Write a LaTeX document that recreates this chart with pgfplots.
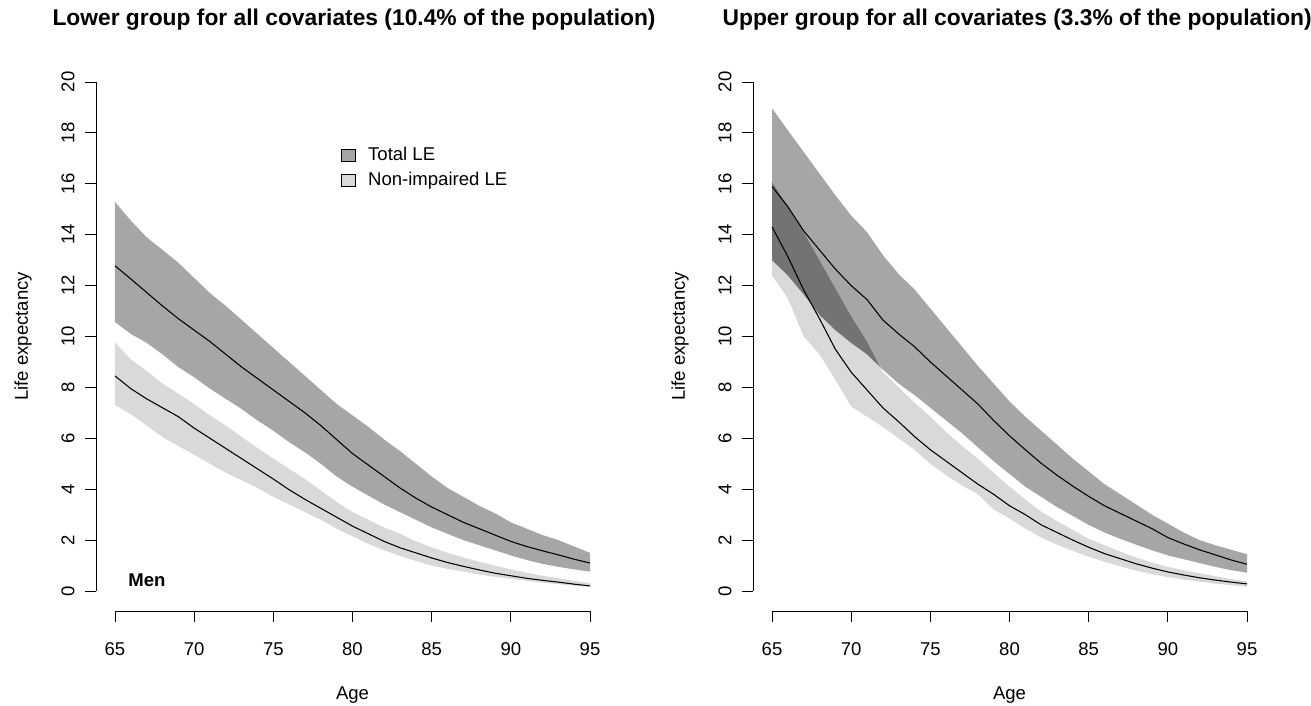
\documentclass[border=0pt]{standalone}
\usepackage{fontspec}
\setmainfont{Liberation Sans}
\usepackage{pgfplots}
\usepackage{pgfplotstable}
\usepgfplotslibrary{fillbetween}
\pgfplotsset{compat=1.18}
\definecolor{gtotal}{RGB}{166,166,166}
\definecolor{gni}{RGB}{217,217,217}
\definecolor{gover}{RGB}{115,115,115}

\pgfplotstableread{
age thi tmean tlo nhi nmean nlo
65 15.29 12.78 10.57 9.77 8.45 7.31
66 14.55 12.26 10.10 9.10 7.95 6.95
67 13.90 11.73 9.75 8.65 7.55 6.50
68 13.40 11.20 9.30 8.15 7.20 6.05
69 12.90 10.70 8.80 7.75 6.85 5.70
70 12.30 10.25 8.40 7.35 6.40 5.35
71 11.70 9.80 7.95 6.90 6.00 5.00
72 11.20 9.30 7.55 6.50 5.60 4.65
73 10.65 8.80 7.15 6.05 5.20 4.35
74 10.10 8.35 6.70 5.62 4.80 4.05
75 9.55 7.90 6.30 5.20 4.40 3.70
76 9.00 7.45 5.85 4.80 3.98 3.40
77 8.45 7.00 5.45 4.40 3.60 3.10
78 7.90 6.50 5.00 3.95 3.25 2.80
79 7.35 5.95 4.50 3.50 2.90 2.45
80 6.90 5.40 4.10 3.10 2.55 2.15
81 6.45 4.95 3.75 2.80 2.25 1.85
82 5.95 4.50 3.40 2.50 1.95 1.60
83 5.50 4.05 3.10 2.25 1.70 1.38
84 5.00 3.65 2.80 1.95 1.50 1.18
85 4.50 3.30 2.50 1.72 1.30 1.00
86 4.05 3.00 2.25 1.50 1.12 0.87
87 3.70 2.70 2.00 1.32 0.97 0.76
88 3.35 2.45 1.80 1.15 0.83 0.65
89 3.05 2.20 1.60 1.00 0.70 0.56
90 2.70 1.95 1.40 0.85 0.60 0.48
91 2.45 1.75 1.22 0.72 0.50 0.40
92 2.20 1.58 1.07 0.60 0.42 0.33
93 2.00 1.42 0.95 0.50 0.35 0.27
94 1.75 1.25 0.85 0.40 0.27 0.21
95 1.50 1.10 0.76 0.30 0.20 0.17
}\leftdata

\pgfplotstableread{
age thi tmean tlo nhi nmean nlo
65 18.97 15.90 13.00 16.08 14.31 12.40
66 18.10 15.10 12.40 15.10 13.14 11.50
67 17.25 14.15 11.65 14.10 11.83 10.00
68 16.40 13.40 10.85 13.00 10.70 9.30
69 15.55 12.65 10.25 11.90 9.50 8.30
70 14.75 12.00 9.75 10.80 8.60 7.25
71 14.10 11.45 9.30 9.80 7.90 6.85
72 13.20 10.65 8.70 8.60 7.20 6.45
73 12.45 10.10 8.15 8.00 6.65 6.00
74 11.85 9.60 7.70 7.40 6.07 5.55
75 11.10 9.00 7.20 6.85 5.55 5.00
76 10.35 8.45 6.70 6.25 5.10 4.55
77 9.60 7.90 6.20 5.70 4.65 4.15
78 8.85 7.35 5.65 5.20 4.20 3.80
79 8.15 6.70 5.10 4.65 3.80 3.20
80 7.45 6.10 4.60 4.10 3.35 2.85
81 6.85 5.55 4.10 3.60 3.00 2.45
82 6.30 5.02 3.70 3.12 2.60 2.10
83 5.75 4.55 3.30 2.75 2.30 1.82
84 5.20 4.12 2.95 2.40 2.00 1.58
85 4.70 3.72 2.60 2.05 1.72 1.35
86 4.20 3.35 2.30 1.80 1.47 1.15
87 3.80 3.05 2.05 1.55 1.27 0.97
88 3.40 2.75 1.82 1.32 1.07 0.80
89 3.00 2.45 1.60 1.12 0.90 0.66
90 2.65 2.10 1.40 0.95 0.75 0.55
91 2.30 1.85 1.25 0.82 0.63 0.45
92 2.00 1.62 1.10 0.70 0.52 0.37
93 1.80 1.42 0.95 0.58 0.43 0.29
94 1.62 1.22 0.82 0.47 0.35 0.23
95 1.45 1.05 0.72 0.38 0.28 0.17
}\rightdata

\newcommand{\rfont}{\fontsize{13.9pt}{16pt}\selectfont}
\newcommand{\tfont}{\fontsize{17.1pt}{20pt}\selectfont\bfseries}

\pgfplotsset{
  rstyle/.style={
    scale only axis, width=384.75pt, height=412.35pt,
    xmin=63.8, xmax=96.2, ymin=-0.8, ymax=20.8,
    clip=false,
    axis line style={draw=none},
    tick align=outside, xtick pos=bottom, ytick pos=left,
    major tick length=7.9pt,
    tick style={black, line width=0.6pt},
    xtick={65,70,...,95}, ytick={0,2,...,20},
    /pgf/number format/assume math mode=true,
    tick label style={font=\rfont},
    xticklabel style={anchor=center, yshift=-20.25pt},
    yticklabel style={rotate=90, anchor=center, yshift=13.1pt},
    xlabel={Age}, ylabel={Life expectancy},
    label style={font=\rfont},
    xlabel style={at={(axis description cs:0.5,-0.1527)}, anchor=center},
    ylabel style={at={(axis description cs:-0.1423,0.5)}, anchor=center},
  }
}

\begin{document}
\begin{tikzpicture}
% ---------- left panel ----------
\begin{axis}[rstyle, at={(0pt,0pt)}, anchor=south west,
  legend style={at={(axis description cs:0.4700,0.8540)}, anchor=north west, draw=none, fill=none,
    font=\rfont, row sep=3pt,
    /tikz/every odd column/.append style={column sep=7.5pt}},
  legend cell align=left]
\addplot[name path=LTU, draw=none, forget plot] table[x=age,y=thi]{\leftdata};
\addplot[name path=LTL, draw=none, forget plot] table[x=age,y=tlo]{\leftdata};
\addplot[fill=gtotal, draw=none, forget plot] fill between[of=LTU and LTL];
\addplot[name path=LNU, draw=none, forget plot] table[x=age,y=nhi]{\leftdata};
\addplot[name path=LNL, draw=none, forget plot] table[x=age,y=nlo]{\leftdata};
\addplot[fill=gni, draw=none, forget plot] fill between[of=LNU and LNL];
\addplot[black, line width=0.8pt, forget plot] table[x=age,y=tmean]{\leftdata};
\addplot[black, line width=0.8pt, forget plot] table[x=age,y=nmean]{\leftdata};
\addlegendimage{legend image code/.code={\draw[fill=gtotal,draw=black,line width=0.6pt] (0pt,-4.5pt) rectangle (10pt,4.5pt);}}
\addlegendentry{Total LE}
\addlegendimage{legend image code/.code={\draw[fill=gni,draw=black,line width=0.6pt] (0pt,-4.5pt) rectangle (10pt,4.5pt);}}
\addlegendentry{Non-impaired LE}
\draw[black, line width=0.6pt] (axis cs:65,-0.8) -- (axis cs:95,-0.8);
\draw[black, line width=0.6pt] (axis cs:63.8,0) -- (axis cs:63.8,20);
\node[anchor=west, font=\rfont\bfseries] at (axis cs:65.55,0.43) {Men};
\node[font=\tfont] at (axis description cs:0.503,1.0757) {Lower group for all covariates (10.4\% of the population)};
\end{axis}

% ---------- right panel ----------
\begin{axis}[rstyle, at={(492.75pt,0pt)}, anchor=south west]
\addplot[name path=RTU, draw=none, forget plot] table[x=age,y=thi]{\rightdata};
\addplot[name path=RTL, draw=none, forget plot] table[x=age,y=tlo]{\rightdata};
\addplot[fill=gtotal, draw=none, forget plot] fill between[of=RTU and RTL];
\addplot[name path=RNU, draw=none, forget plot] table[x=age,y=nhi]{\rightdata};
\addplot[name path=RNL, draw=none, forget plot] table[x=age,y=nlo]{\rightdata};
\addplot[fill=gni, draw=none, forget plot] fill between[of=RNU and RNL];
\addplot[fill=gover, draw=none, forget plot] fill between[of=RNU and RTL, soft clip={domain=65:71.83}];
\addplot[black, line width=0.8pt, forget plot] table[x=age,y=tmean]{\rightdata};
\addplot[black, line width=0.8pt, forget plot] table[x=age,y=nmean]{\rightdata};
\draw[black, line width=0.6pt] (axis cs:65,-0.8) -- (axis cs:95,-0.8);
\draw[black, line width=0.6pt] (axis cs:63.8,0) -- (axis cs:63.8,20);
\node[font=\tfont] at (axis description cs:0.515,1.0757) {Upper group for all covariates (3.3\% of the population)};
\end{axis}
\pgfresetboundingbox
\useasboundingbox (-72pt,-70.95pt) rectangle (911.25pt,458.55pt);
\end{tikzpicture}
\end{document}
